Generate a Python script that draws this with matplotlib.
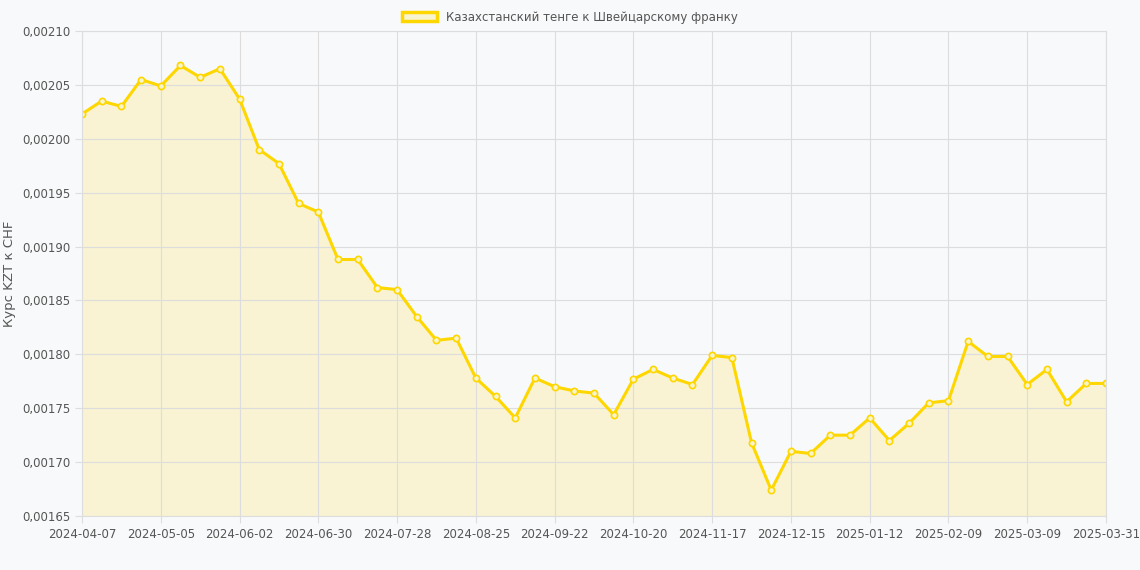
import matplotlib
matplotlib.use("Agg")
import matplotlib.pyplot as plt
import numpy as np

values = [0.002023,0.002035,0.002030,0.002055,0.002049,0.002068,0.002057,0.002065,0.002037,0.001990,
0.001977,0.001940,0.001932,0.001888,0.001888,0.001862,0.001860,0.001835,0.001813,0.001815,
0.001778,0.001761,0.001741,0.001778,0.001770,0.001766,0.001764,0.001744,0.001777,0.001786,
0.001778,0.001772,0.001799,0.001797,0.001718,0.001674,0.001710,0.001708,0.001725,0.001725,
0.001741,0.001720,0.001736,0.001755,0.001757,0.001812,0.001798,0.001798,0.001772,0.001786,
0.001756,0.001773,0.001773]
tick_idx = [0,4,8,12,16,20,24,28,32,36,40,44,48,52]
tick_labels = ["2024-04-07","2024-05-05","2024-06-02","2024-06-30","2024-07-28","2024-08-25",
"2024-09-22","2024-10-20","2024-11-17","2024-12-15","2025-01-12","2025-02-09","2025-03-09","2025-03-31"]
label = "Казахстанский тенге к Швейцарскому франку"

x = np.arange(len(values))
fig = plt.figure(figsize=(11.4,5.7), dpi=100, facecolor="#f8f9fa")
ax = fig.add_axes([82/1140, 1-516/570, 1024/1140, 485/570])
ax.set_facecolor("#f8f9fa")
ax.fill_between(x, values, 0.00165, color="#FFD700", alpha=0.15, lw=0)
ax.plot(x, values, color="#FFD700", lw=2.2, marker="o", ms=4.5, mfc="#f8f4d0", mec="#FFD700", mew=1.2, label=label)
ax.set_xlim(0, len(values)-1)
ax.set_ylim(0.00165, 0.00210)
yt = np.arange(0.00165, 0.002101, 0.00005)
ax.set_yticks(yt)
ax.set_yticklabels([f"{v:.5f}".replace(".", ",") for v in yt])
ax.set_xticks(tick_idx)
ax.set_xticklabels(tick_labels)
ax.tick_params(labelsize=8.5, colors="#dddddd", labelcolor="#555555", length=5)
ax.grid(True, color="#dddddd", lw=0.8)
for s in ax.spines.values():
    s.set_color("#dddddd")
ax.set_ylabel("Курс KZT к CHF", fontsize=9.5, color="#555555", labelpad=4)
leg = fig.legend(handles=[plt.Rectangle((0,0),1,1,fc="#f8f4d0",ec="#FFD700",lw=2.5)], labels=[label],
           loc="upper center", bbox_to_anchor=(0.5, 1.0), frameon=False, fontsize=8.5, handlelength=3)
for t in leg.get_texts():
    t.set_color("#555555")
fig.savefig("out.png", dpi=100, facecolor=fig.get_facecolor())
